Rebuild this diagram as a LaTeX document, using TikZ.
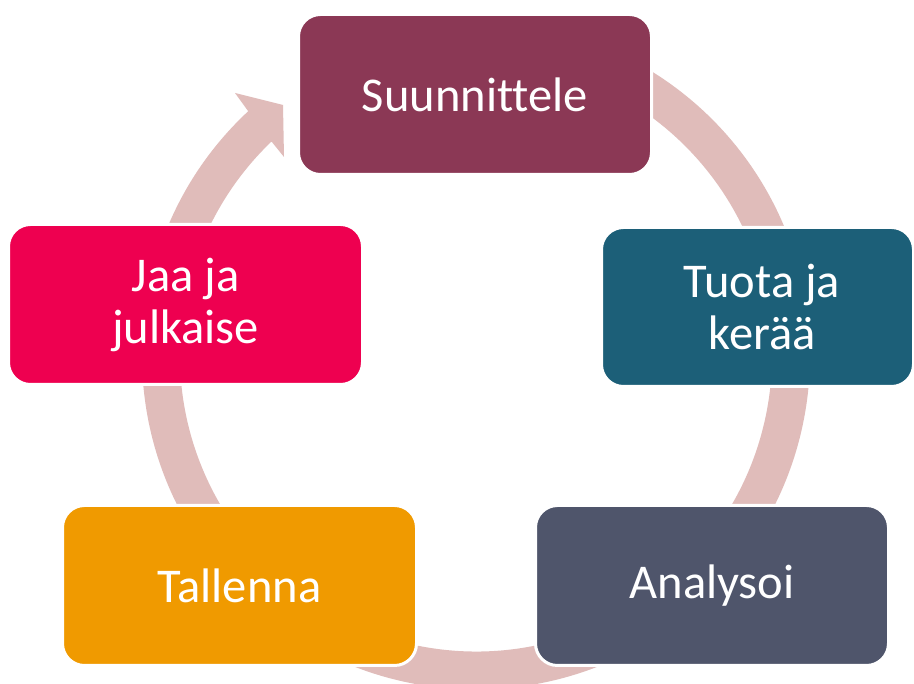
\documentclass[tikz,border=0pt]{standalone}
\usepackage{fontspec}
\setmainfont{Carlito}[Ligatures={NoCommon}]
\definecolor{ringc}{HTML}{E0BCBA}
\definecolor{cS}{HTML}{8B3855}
\definecolor{cT}{HTML}{1C5F78}
\definecolor{cJ}{HTML}{EE0050}
\definecolor{cTa}{HTML}{F09A00}
\definecolor{cA}{HTML}{4F556B}
\begin{document}
\begin{tikzpicture}[x=1pt,y=1pt,
  stepbox/.style={rectangle, rounded corners=22pt, draw=white, line width=3pt,
    text=white, align=center, inner sep=0pt,
    font=\fontsize{48.5}{52}\selectfont}]
\useasboundingbox (0,0) rectangle (914,684);
\fill[white] (0,0) rectangle (914,684);
% ring arrow with head
\begin{scope}[shift={(476,328.5)}]
  \fill[ringc] (133:334) arc[start angle=-227, end angle=80, radius=334]
    -- (80:296) arc[start angle=80, end angle=-226.3, radius=296]
    -- (-192,198.5) -- (-193,250.5) -- (-241,262.5) -- cycle;
\end{scope}
% boxes
\node[stepbox, fill=cS, minimum width=353, minimum height=160] (s) at (475,589.5) {Suunnittele};
\node[stepbox, fill=cT, minimum width=312, minimum height=159] (t) at (757.5,377) {\hspace*{9pt}Tuota ja\\\hspace*{9pt}kerää};
\node[stepbox, fill=cA, minimum width=353, minimum height=160] (a) at (712,98.5) {Analysoi};
\node[stepbox, fill=cTa, minimum width=354, minimum height=160] (ta) at (239.5,98.5) {Tallenna};
\node[stepbox, fill=cJ, minimum width=354, minimum height=160] (j) at (185.5,379.5) {Jaa ja\\julkaise};
\end{tikzpicture}
\end{document}
